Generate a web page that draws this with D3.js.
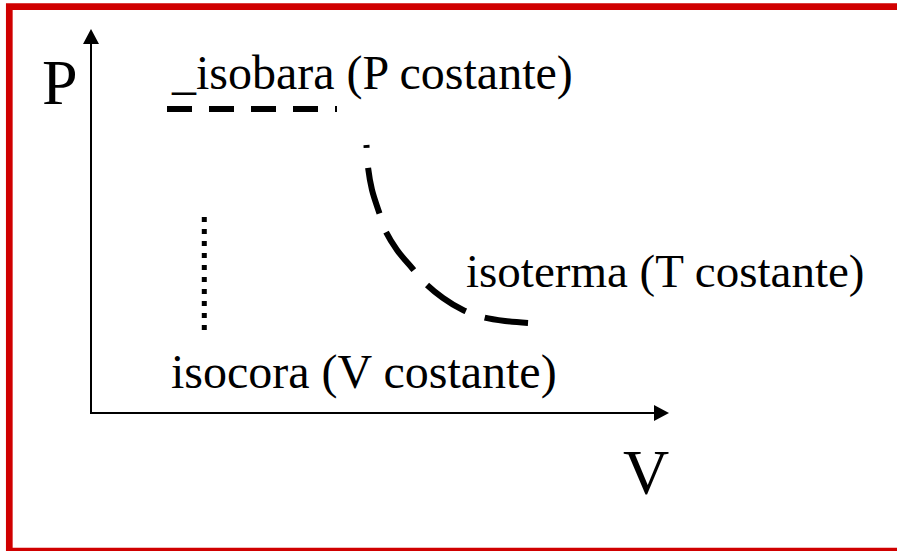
<!DOCTYPE html>
<html>
<head>
<meta charset="utf-8">
<script src="https://cdn.jsdelivr.net/npm/d3@7"></script>
<style>
  html, body { margin: 0; padding: 0; background: #ffffff; overflow: hidden; }
  svg { display: block; }
  text { font-family: "Liberation Serif", "Times New Roman", serif; fill: #000; }
</style>
</head>
<body>
<svg id="chart" width="897" height="551"></svg>
<script>
// ---- data (V, P in arbitrary units 0..100) ----
const axisLabels = ["V", "P"];
const curveLabels = ["_isobara (P costante)", "isoterma (T costante)", "isocora (V costante)"];

// isobara: constant pressure
const isobaraV = [13.15, 42.56];
const isobaraP = [79.17, 79.17];

// isocora: constant volume
const isocoraV = [19.6, 19.6];
const isocoraP = [51.04, 21.61];

// isoterma
const isotermaV = [47.66, 47.92, 48.62, 49.83, 50.87, 52.94, 55.54, 57.79, 60.90, 64.36, 67.65, 71.63, 75.61];
const isotermaP = [69.79, 64.06, 58.07, 52.34, 47.66, 42.45, 37.76, 33.85, 29.95, 26.82, 25.00, 23.96, 23.44];

// ---- layout ----
const svg = d3.select("#chart");
const x = d3.scaleLinear().domain([0, 100]).range([91, 669]);
const y = d3.scaleLinear().domain([0, 100]).range([413, 29]);

// red frame: top, left and bottom sides (right side lies outside the picture)
svg.append("path")
  .attr("d", "M1000,6.7H9.3V551H1000")
  .attr("fill", "none")
  .attr("stroke", "#d00000")
  .attr("stroke-width", 6.7);

// axes
const arrowLen = 15, arrowHalf = 8;
svg.append("line")
  .attr("x1", x(0)).attr("y1", y(0))
  .attr("x2", x(100) - arrowLen).attr("y2", y(0))
  .attr("stroke", "#000").attr("stroke-width", 2);
svg.append("path")
  .attr("d", `M${x(100)},${y(0)}L${x(100) - arrowLen},${y(0) - arrowHalf}L${x(100) - arrowLen},${y(0) + arrowHalf}Z`)
  .attr("fill", "#000");
svg.append("line")
  .attr("x1", x(0)).attr("y1", y(0) + 1)
  .attr("x2", x(0)).attr("y2", y(100) + arrowLen)
  .attr("stroke", "#000").attr("stroke-width", 2);
svg.append("path")
  .attr("d", `M${x(0)},${y(100)}L${x(0) - arrowHalf},${y(100) + arrowLen}L${x(0) + arrowHalf},${y(100) + arrowLen}Z`)
  .attr("fill", "#000");

// axis labels
svg.append("text").attr("x", 623).attr("y", 494)
  .attr("font-size", 64).text(axisLabels[0]);
svg.append("text").attr("x", 42).attr("y", 104)
  .attr("font-size", 64).text(axisLabels[1]);

const line = d3.line().x(d => x(d[0])).y(d => y(d[1]));

// isobara
svg.append("path")
  .attr("d", line(d3.zip(isobaraV, isobaraP)))
  .attr("fill", "none").attr("stroke", "#000")
  .attr("stroke-width", 6)
  .attr("stroke-dasharray", "25,17");

// isocora
svg.append("path")
  .attr("d", line(d3.zip(isocoraV, isocoraP)))
  .attr("fill", "none").attr("stroke", "#000")
  .attr("stroke-width", 5)
  .attr("stroke-dasharray", "5,7");

// isoterma
const curveLine = d3.line().x(d => x(d[0])).y(d => y(d[1])).curve(d3.curveCatmullRom);
svg.append("path")
  .attr("d", curveLine(d3.zip(isotermaV, isotermaP)))
  .attr("fill", "none").attr("stroke", "#000")
  .attr("stroke-width", 6)
  .attr("stroke-dasharray", "47,20")
  .attr("stroke-dashoffset", 44);

// curve labels
svg.append("text").attr("x", 172).attr("y", 89).attr("font-size", 48).text(curveLabels[0]);
svg.append("text").attr("x", 466).attr("y", 287).attr("font-size", 47).text(curveLabels[1]);
svg.append("text").attr("x", 171).attr("y", 388).attr("font-size", 48).text(curveLabels[2]);
</script>
</body>
</html>
